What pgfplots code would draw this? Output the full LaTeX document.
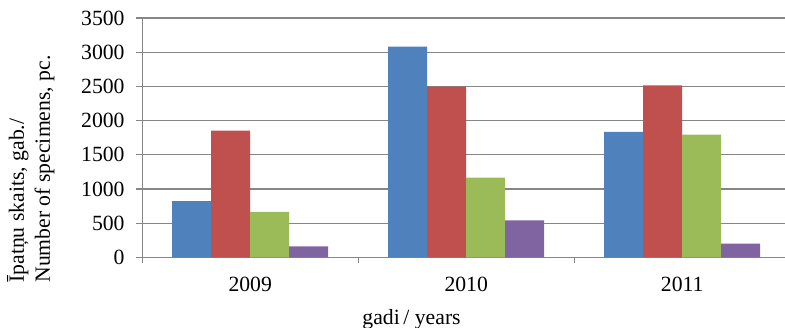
\documentclass[border=0pt]{standalone}
\usepackage{fontspec}
\setmainfont{Liberation Serif}
\usepackage{pgfplots}
\pgfplotsset{compat=1.18}
\definecolor{cblue}{HTML}{4F81BD}
\definecolor{cred}{HTML}{C0504D}
\definecolor{cgreen}{HTML}{9BBB59}
\definecolor{cpurple}{HTML}{8064A2}
\definecolor{cgrid}{HTML}{868686}
\begin{document}
\fontsize{10.85}{13.25}\selectfont
\begin{tikzpicture}
\useasboundingbox (-71.1pt,-34.85pt) rectangle (321.4pt,128.65pt);
\begin{axis}[
  at={(0,0)}, anchor=south west,
  scale only axis,
  width=324pt, height=119.65pt,
  xmin=-0.5, xmax=2.5,
  ymin=0, ymax=3500,
  ytick={0,500,...,3500},
  ybar=0pt, bar width=19.5pt,
  axis x line*=bottom, axis y line*=left,
  axis line style={cgrid, line width=0.6pt},
  ymajorgrids, grid style={cgrid, line width=0.6pt},
  tick align=outside,
  tick style={cgrid, line width=0.6pt},
  major tick length=3pt,
  xtick={-0.5,0.5,1.5,2.5},
  xticklabels={},
  extra x ticks={0,1,2},
  extra x tick labels={2009,2010,2011},
  extra x tick style={major tick length=0pt, xticklabel style={yshift=-6pt}},
  /pgf/number format/assume math mode=true,
  /pgf/number format/1000 sep={},
  ticklabel style={font=\fontsize{10.85}{13}\selectfont},
  yticklabel style={xshift=-2pt},
  xlabel={gadi\,/ years},
  xlabel style={at={(rel axis cs:0.4157,0)}, anchor=base, yshift=-33.4pt, inner sep=0pt},
]
\addplot[fill=cblue, draw=none] coordinates {(0,823) (1,3080) (2,1833)};
\addplot[fill=cred, draw=none] coordinates {(0,1852) (1,2495) (2,2516)};
\addplot[fill=cgreen, draw=none] coordinates {(0,663) (1,1164) (2,1793)};
\addplot[fill=cpurple, draw=none] coordinates {(0,161) (1,541) (2,199)};
\end{axis}
\node[rotate=90, anchor=base west, inner sep=0pt] at (-59.1pt,-12.85pt) {Īpatņu skaits, gab./};
\node[rotate=90, anchor=base west, inner sep=0pt] at (-46.1pt,-12.85pt) {Number of specimens, pc.};
\end{tikzpicture}
\end{document}
